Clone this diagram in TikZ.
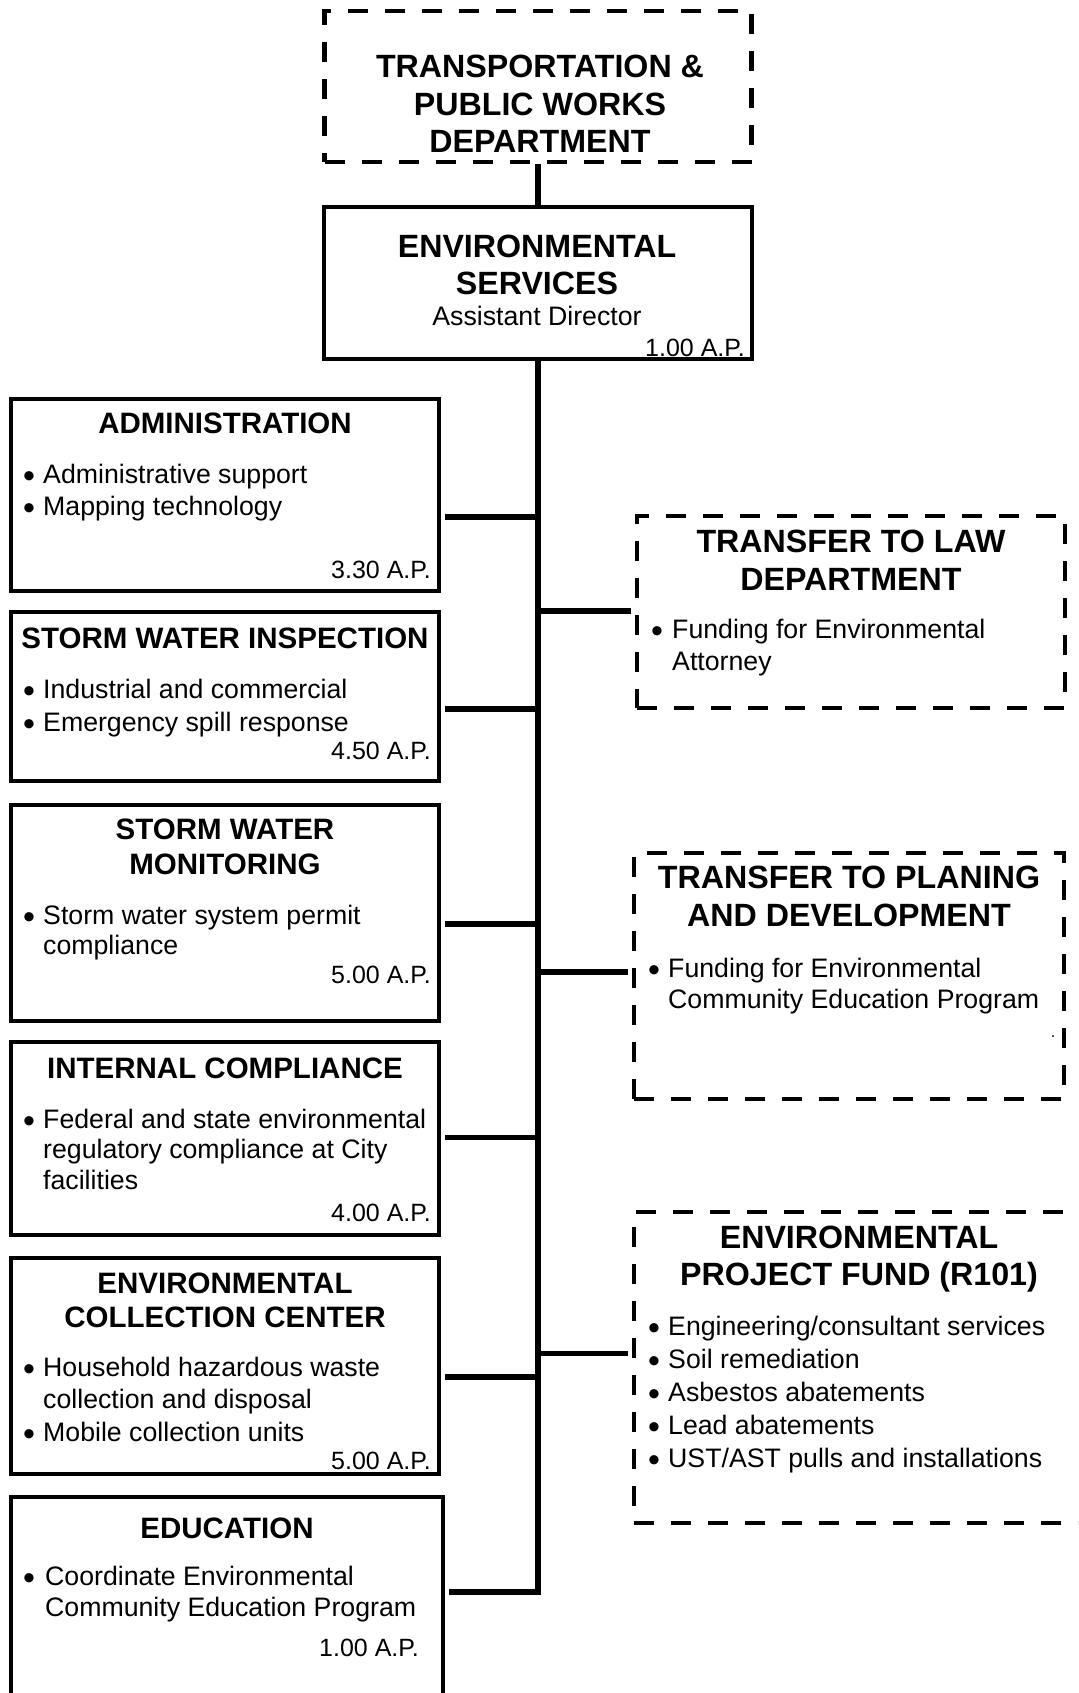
\documentclass[tikz,border=0pt]{standalone}
\usepackage{fontspec}
\setmainfont{Liberation Sans}
% type sizes (1pt = one unit of the drawing grid)
\newcommand\fBig[1][37.5]{\fontsize{32.2}{#1}\selectfont\bfseries}
\newcommand\fTitle[1][34.6]{\fontsize{29.5}{#1}\selectfont\bfseries}
\newcommand\fBody[1][32]{\fontsize{26.7}{#1}\selectfont}
\newcommand\fAP{\fontsize{25}{28}\selectfont}
% stacked lines whose reference point is the first baseline
\newcommand\lines[2]{\begin{tabular}[t]{@{}#1@{}}#2\end{tabular}}
% bullet with hanging indent
\newcommand\bigdot{\raisebox{-4pt}{\fontsize{34}{34}\selectfont\textbullet}}
\newcommand\bul[1][20pt]{\makebox[#1][l]{\bigdot}}
\newcommand\ind[1][20pt]{\hspace*{#1}}

\begin{document}
\begin{tikzpicture}[x=1pt,y=-1pt,
  box/.style={draw, line width=4.5pt, inner sep=0pt},
  dbox/.style={draw, line width=4.6pt, dash pattern=on 20pt off 17pt, inner sep=0pt},
  conn/.style={line width=5.5pt},
  txt/.style={inner sep=0pt, anchor=base},
  ltxt/.style={inner sep=0pt, anchor=base west},
  rtxt/.style={inner sep=0pt, anchor=base east}]
\useasboundingbox (0,0) rectangle (1078,1693);
\clip (0,0) rectangle (1078,1693);

% ---------- boxes ----------
\node[dbox, minimum width=427pt, minimum height=151pt] (tpw)   at (538,86.5)  {};
\node[box,  minimum width=428pt, minimum height=152pt] (es)    at (538,283)   {};
\node[box,  minimum width=428pt, minimum height=192pt] (admin) at (225,495)   {};
\node[box,  minimum width=428pt, minimum height=169pt] (swi)   at (225,696.5) {};
\node[box,  minimum width=428pt, minimum height=216pt] (swm)   at (225,913)   {};
\node[box,  minimum width=428pt, minimum height=193pt] (ic)    at (225,1138.5){};
\node[box,  minimum width=428pt, minimum height=216pt] (ecc)   at (225,1366)  {};
\node[box,  minimum width=432pt, minimum height=213pt] (edu)   at (227,1603.5){};
\node[dbox, minimum width=428pt, minimum height=192pt] (law)   at (851,612)   {};
\node[dbox, minimum width=430pt, minimum height=246pt] (plan)  at (849,976)   {};
\node[dbox, minimum width=466pt, minimum height=311pt] (fund)  at (867,1367.5){};

% ---------- connectors ----------
\coordinate (spEnd) at (538,1594.75);
\draw[conn] (tpw.south) -- (es.north);
\draw[conn] (es.south) -- (spEnd);
\coordinate (jAdmin) at (538,517);
\coordinate (jSwi)   at (538,709);
\coordinate (jSwm)   at (538,924);
\coordinate (jIc)    at (538,1137.5);
\coordinate (jEcc)   at (538,1377);
\coordinate (jEdu)   at (538,1592);
\coordinate (jLaw)   at (538,611);
\coordinate (jPlan)  at (538,972);
\coordinate (jFund)  at (538,1353.5);
\begin{scope}[conn, shorten >=3.5pt]
\draw (jAdmin) -- (jAdmin -| admin.east);
\draw (jSwi)   -- (jSwi -| swi.east);
\draw (jSwm)   -- (jSwm -| swm.east);
\draw (jIc)    -- (jIc -| ic.east);
\draw (jEcc)   -- (jEcc -| ecc.east);
\draw (jEdu)   -- (jEdu -| edu.east);
\draw (jLaw)   -- (jLaw -| law.west);
\draw (jPlan)  -- (jPlan -| plan.west);
\draw (jFund)  -- (jFund -| fund.west);
\end{scope}

% ---------- texts ----------
\node[txt] (tpwT) at (540,78) {\fBig\lines{c}{TRANSPORTATION \&\\PUBLIC WORKS\\DEPARTMENT}};

\node[txt]  (esT)  at (537,258) {\fBig[36.7]\lines{c}{ENVIRONMENTAL\\SERVICES}};
\node[txt]  (esS)  at (537,326) {\fBody Assistant Director};
\node[rtxt] (esAP) at (745,356) {\fAP 1.00 A.P.};

\node[txt]  (adminT)  at (225,433) {\fTitle ADMINISTRATION};
\node[ltxt] (adminL)  at (23,483)  {\fBody\lines{l}{\bul Administrative support\\\bul Mapping technology}};
\node[rtxt] (adminAP) at (431,578) {\fAP 3.30 A.P.};

\node[txt]  (swiT)  at (225,648) {\fTitle STORM WATER INSPECTION};
\node[ltxt] (swiL)  at (23,698)  {\fBody[33]\lines{l}{\bul Industrial and commercial\\\bul Emergency spill response}};
\node[rtxt] (swiAP) at (431,759) {\fAP 4.50 A.P.};

\node[txt]  (swmT)  at (225,839) {\fTitle[35]\lines{c}{STORM WATER\\MONITORING}};
\node[ltxt] (swmL)  at (23,924)  {\fBody[30]\lines{l}{\bul Storm water system permit\\\ind compliance}};
\node[rtxt] (swmAP) at (431,983) {\fAP 5.00 A.P.};

\node[txt]  (icT)  at (225,1078) {\fTitle INTERNAL COMPLIANCE};
\node[ltxt] (icL)  at (23,1128)  {\fBody[30.5]\lines{l}{\bul Federal and state environmental\\\ind regulatory compliance at City\\\ind facilities}};
\node[rtxt] (icAP) at (431,1221) {\fAP 4.00 A.P.};

\node[txt]  (eccT)  at (225,1293) {\fTitle[34]\lines{c}{ENVIRONMENTAL\\COLLECTION CENTER}};
\node[ltxt] (eccL)  at (23,1376)  {\fBody[32.5]\lines{l}{\bul Household hazardous waste\\\ind collection and disposal\\\bul Mobile collection units}};
\node[rtxt] (eccAP) at (431,1469) {\fAP 5.00 A.P.};

\node[txt]  (eduT)  at (227,1538) {\fTitle EDUCATION};
\node[ltxt] (eduL)  at (23,1585)  {\fBody[31]\lines{l}{\bul[22pt]{}Coordinate Environmental\\\ind[22pt]{}Community Education Program}};
\node[rtxt] (eduAP) at (419,1656) {\fAP 1.00 A.P.};

\node[txt]  (lawT) at (851,552) {\fBig[38]\lines{c}{TRANSFER TO LAW\\DEPARTMENT}};
\node[ltxt] (lawL) at (651,638) {\fBody\lines{l}{\bul[21pt]{}Funding for Environmental\\\ind[21pt]{}Attorney}};

\node[txt]  (planT) at (849,888) {\fBig[38]\lines{c}{TRANSFER TO PLANING\\AND DEVELOPMENT}};
\node[ltxt] (planL) at (648,977) {\fBody[31]\lines{l}{\bul Funding for Environmental\\\ind Community Education Program}};
\node[txt]  (planDot) at (1053,1037) {\fontsize{16}{16}\selectfont .};

\node[txt]  (fundT) at (859,1248) {\fBig[37]\lines{c}{ENVIRONMENTAL\\PROJECT FUND (R101)}};
\node[ltxt] (fundL) at (648,1335) {\fBody[33]\lines{l}{\bul Engineering/consultant services\\\bul Soil remediation\\\bul Asbestos abatements\\\bul Lead abatements\\\bul UST/AST pulls and installations}};
\end{tikzpicture}
\end{document}
